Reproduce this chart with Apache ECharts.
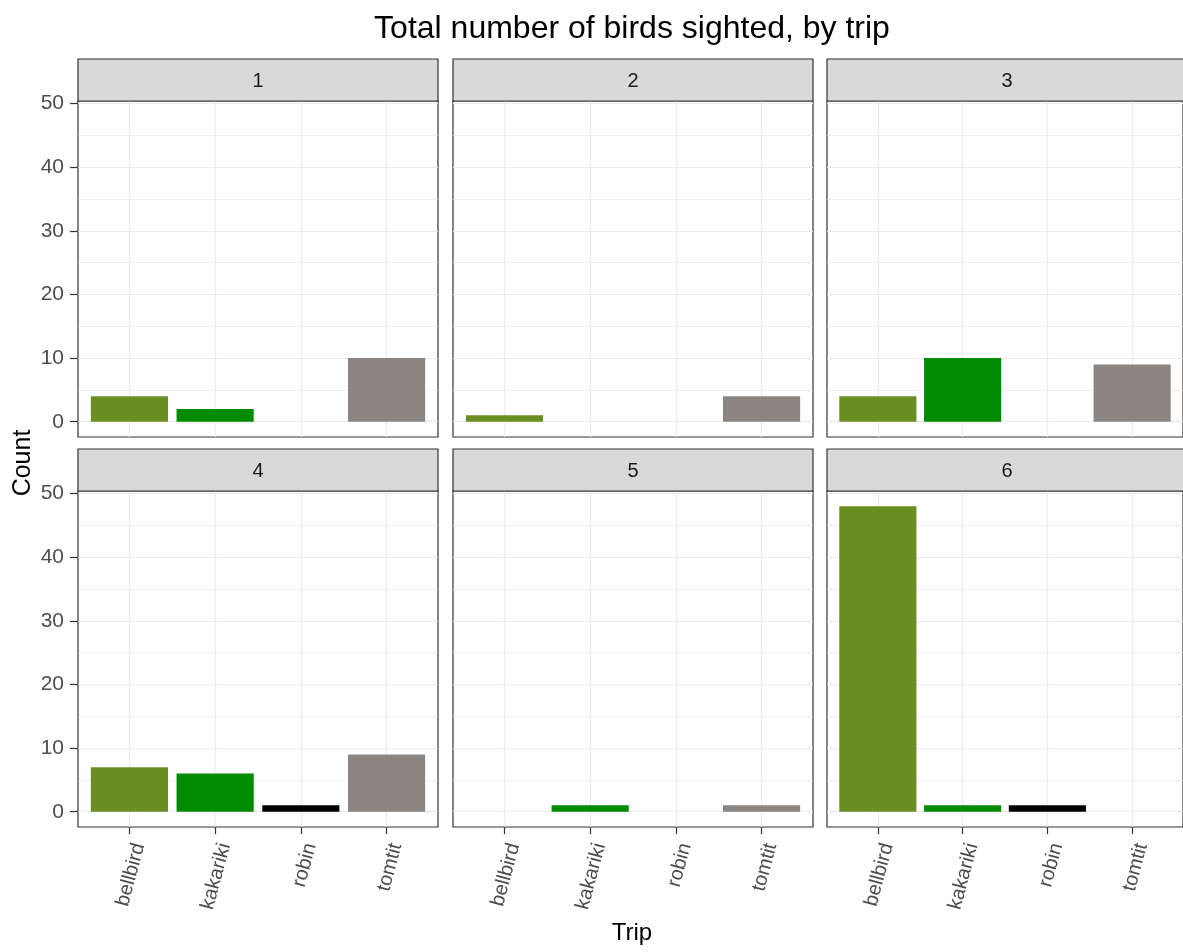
<!DOCTYPE html>
<html>
<head>
<meta charset="utf-8">
<script src="https://cdn.jsdelivr.net/npm/echarts@6/dist/echarts.min.js"></script>
<style>
html,body{margin:0;padding:0;background:#fff;}
#chart{width:1183px;height:952px;}
</style>
</head>
<body>
<div id="chart"></div>
<script>
// ---- data ----
const categories = ['bellbird', 'kakariki', 'robin', 'tomtit'];
const trips = ['1', '2', '3', '4', '5', '6'];
const bellbird = [4, 1, 4, 7, null, 48];
const kakariki = [2, null, 10, 6, 1, 1];
const robin = [null, null, null, 1, null, 1];
const tomtit = [10, 4, 9, 9, 1, null];
const yTicks = [0, 10, 20, 30, 40, 50];
const yMinorTicks = [5, 15, 25, 35, 45];
const xTicks = [1, 2, 3, 4];
const speciesColors = ['#6B8E23', '#008B00', '#000000', '#8B8682'];

// ---- layout ----
const FONT = "'Liberation Sans', Arial, sans-serif";
const colLefts = [78, 453, 827];
const rowTops = [101, 491];
const panelW = 360, panelH = 336, stripH = 42;
const xMin = 0.4, xMax = 4.6, yMin = -2.4, yMax = 50.4;
const barW = 0.9 * panelW / (xMax - xMin);

const speciesValues = [bellbird, kakariki, robin, tomtit];

const grids = [], xAxes = [], yAxes = [], series = [], graphics = [];

trips.forEach((trip, t) => {
  const col = t % 3, row = Math.floor(t / 3);
  const left = colLefts[col], top = rowTops[row];
  const isBottom = row === 1, isLeft = col === 0;
  grids.push({
    left: left, top: top, width: panelW, height: panelH,
    show: true, backgroundColor: '#fff', borderColor: '#333333', borderWidth: 1.2,
    containLabel: false
  });
  xAxes.push({
    type: 'value', gridIndex: t, min: xMin, max: xMax, position: 'bottom',
    axisLine: {show: false, onZero: false},
    axisTick: {show: isBottom, customValues: xTicks, length: 7, lineStyle: {color: '#333333', width: 1.2}},
    axisLabel: {
      show: isBottom, customValues: xTicks, rotate: 75, align: 'right', verticalAlign: 'top',
      margin: 14, color: '#4D4D4D', fontSize: 20, fontFamily: FONT,
      formatter: v => categories[Math.round(v) - 1]
    },
    splitLine: {show: true, lineStyle: {color: '#EBEBEB', width: 1.2}}
  });
  // major y axis
  yAxes.push({
    type: 'value', gridIndex: t, min: yMin, max: yMax, position: 'left',
    axisLine: {show: false, onZero: false},
    axisTick: {show: isLeft, customValues: yTicks, length: 8, lineStyle: {color: '#333333', width: 1.2}},
    axisLabel: {show: isLeft, customValues: yTicks, margin: 14, color: '#4D4D4D', fontSize: 21, fontFamily: FONT},
    splitLine: {show: true, lineStyle: {color: '#EBEBEB', width: 1.2}}
  });
  // minor y axis (grid lines only)
  yAxes.push({
    type: 'value', gridIndex: t, min: yMin, max: yMax, position: 'right',
    axisLine: {show: false, onZero: false},
    axisTick: {show: false, customValues: yMinorTicks},
    axisLabel: {show: false, customValues: yMinorTicks},
    splitLine: {show: true, lineStyle: {color: '#EBEBEB', width: 0.8}}
  });
  const data = [];
  categories.forEach((c, i) => {
    const v = speciesValues[i][t];
    if (v != null) data.push({value: [i + 1, v], itemStyle: {color: speciesColors[i]}});
  });
  series.push({
    type: 'bar', xAxisIndex: t, yAxisIndex: 2 * t, data: data,
    barWidth: barW, silent: true, z: 3
  });
  // strip
  graphics.push({
    type: 'rect', shape: {x: left, y: top - stripH, width: panelW, height: stripH},
    style: {fill: '#D9D9D9', stroke: '#333333', lineWidth: 1.2}, z: 10
  });
  graphics.push({
    type: 'text', x: left + panelW / 2, y: top - stripH / 2 + 1,
    style: {text: trip, textAlign: 'center', textVerticalAlign: 'middle', font: '20px ' + FONT, fill: '#1A1A1A'}, z: 11
  });
});

graphics.push({
  type: 'text', x: 632, y: 29,
  style: {text: 'Total number of birds sighted, by trip', textAlign: 'center', textVerticalAlign: 'middle', font: '32px ' + FONT, fill: '#000'}
});
graphics.push({
  type: 'text', x: 632, y: 933,
  style: {text: 'Trip', textAlign: 'center', textVerticalAlign: 'middle', font: '24px ' + FONT, fill: '#000'}
});
graphics.push({
  type: 'text', x: 23, y: 463, rotation: Math.PI / 2,
  style: {text: 'Count', textAlign: 'center', textVerticalAlign: 'middle', font: '25px ' + FONT, fill: '#000'}
});

const chart = echarts.init(document.getElementById('chart'), null, {renderer: 'canvas'});
chart.setOption({
  animation: false,
  backgroundColor: '#fff',
  grid: grids,
  xAxis: xAxes,
  yAxis: yAxes,
  series: series,
  graphic: graphics
});
</script>
</body>
</html>
